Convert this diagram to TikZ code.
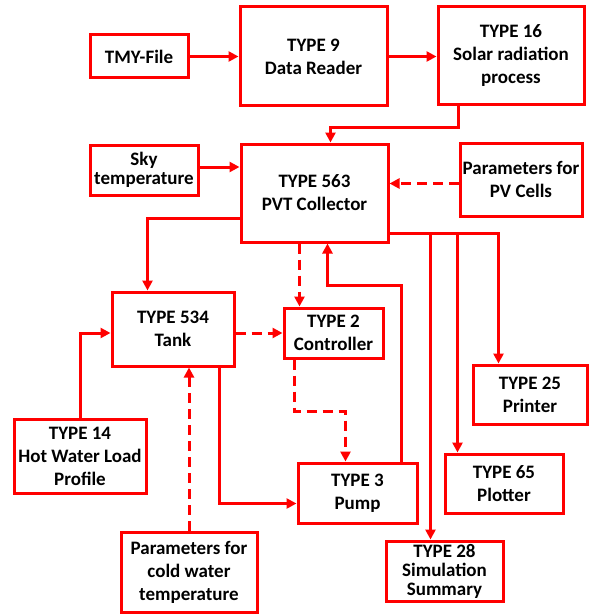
\documentclass[tikz,border=0pt]{standalone}
\usepackage{fontspec}
\setmainfont{Carlito}
\usetikzlibrary{arrows.meta}
\definecolor{rd}{RGB}{255,0,0}
\tikzset{
  box/.style={draw=rd, line width=3pt, fill=white, align=center, inner sep=0pt,
    font=\fontsize{19}{23}\selectfont\bfseries, text=black},
  tight/.style={font=\fontsize{19}{19}\selectfont\bfseries},
  arr/.style={draw=rd, line width=3pt, -{Triangle[length=10pt,width=10pt]}},
  darr/.style={arr, dash pattern=on 10pt off 6pt},
}
\begin{document}
\begin{tikzpicture}[x=1pt,y=-1pt]
\useasboundingbox (0,0) rectangle (590,615);
\node[box, minimum width=98pt, minimum height=43pt] (tmy) at (139,56.5) {TMY-File};
\node[box, minimum width=147pt, minimum height=99pt] (t9) at (313.5,56.5) {TYPE 9\\Data Reader};
\node[box, minimum width=146pt, minimum height=98pt] (t16) at (511,56) {TYPE 16\\Solar radiation\\process};
\node[box, tight, minimum width=108pt, minimum height=50pt] (sky) at (144,170) {Sky\\temperature};
\node[box, minimum width=147pt, minimum height=98pt] (pvt) at (314.5,193) {TYPE 563\\PVT Collector};
\node[box, minimum width=122pt, minimum height=73pt] (pvc) at (521,179.5) {Parameters for\\PV Cells};
\node[box, minimum width=122pt, minimum height=74pt] (tank) at (173,329) {TYPE 534\\Tank};
\node[box, minimum width=99pt, minimum height=50pt] (ctrl) at (333.5,333) {TYPE 2\\Controller};
\node[box, minimum width=132pt, minimum height=74pt] (t14) at (80,456) {TYPE 14\\Hot Water Load\\Profile};
\node[box, minimum width=114pt, minimum height=59pt] (t25) at (530,394.5) {TYPE 25\\Printer};
\node[box, minimum width=118pt, minimum height=59pt] (t65) at (504,483.5) {TYPE 65\\Plotter};
\node[box, minimum width=119pt, minimum height=60pt] (pump) at (357.5,493) {TYPE 3\\Pump};
\node[box, minimum width=136pt, minimum height=80pt] (cold) at (189,572) {Parameters for\\cold water\\temperature};
\node[box, tight, minimum width=117pt, minimum height=60pt] (t28) at (444.5,571) {TYPE 28\\Simulation\\Summary};

\draw[arr] (tmy.east) -- (tmy.east -| t9.west);
\draw[arr] (t9.east) -- (t9.east -| t16.west);
\draw[arr] ([xshift=22pt]t16.south west) -- ++(0,21) -| ([xshift=91pt]pvt.north west);
\draw[arr] ([yshift=3pt]sky.east) -- ([yshift=3pt]sky.east -| pvt.west);
\draw[darr] ([yshift=-4pt]pvc.west) -- ([yshift=-4pt]pvc.west -| pvt.east);
\draw[arr] ([yshift=25pt]pvt.south west) -| ([xshift=37pt]tank.north west);
\draw[darr] ([xshift=60pt]pvt.south west) -- ([xshift=60pt]pvt.south west |- ctrl.north);
\draw[darr] (tank.east |- ctrl.west) -- (ctrl.west);
\draw[arr] (t14.north) |- ([yshift=-4pt]tank.west);
\draw[darr] (cold.north) -- (cold.north |- tank.south);
\draw[arr] ([xshift=-16pt]tank.south east) |- ([yshift=21pt]pump.south west);
\draw[darr] ([xshift=12pt]ctrl.south west) -- ++(0,52) -| ([xshift=49pt]pump.north west);
\draw[arr] ([xshift=-17pt]pump.north east) -- ++(0,-176) -| ([xshift=88pt]pvt.south west);
\draw[arr] ([yshift=10pt]pvt.south east) -| ([xshift=27pt]t25.north west);
\draw[arr] ([yshift=10pt]pvt.south east) -| ([xshift=46pt]t28.north west);
\draw[arr] ([yshift=10pt]pvt.south east) -| ([xshift=14pt]t65.north west);
\end{tikzpicture}
\end{document}
